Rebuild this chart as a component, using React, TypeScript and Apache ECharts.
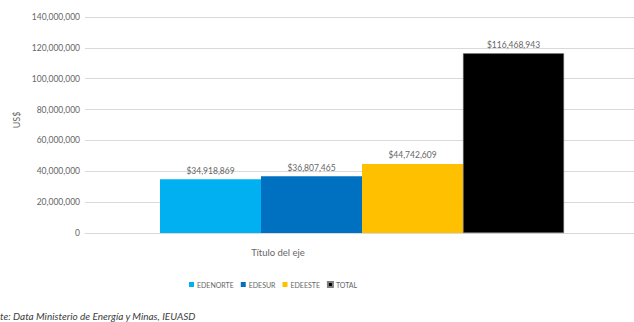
import React, { useEffect, useRef } from "react";
import * as echarts from "echarts";

const categories = ["Título del eje"];
const seriesNames = ["EDENORTE", "EDESUR", "EDEESTE", "TOTAL"];
const seriesValues = [34918869, 36807465, 44742609, 116468943];
const seriesColors = ["#00B0F0", "#0070C0", "#FFC000", "#000000"];
const yTicks = { min: 0, max: 140000000, interval: 20000000 };

const FONT = "Lato, 'Open Sans', sans-serif";
const TEXT = "#666666";

function fmt(n: number) {
  return n.toLocaleString("en-US");
}

export default function App() {
  const ref = useRef<HTMLDivElement>(null);
  useEffect(() => {
    if (!ref.current) return;
    const chart = echarts.init(ref.current, undefined, { renderer: "svg" });
    chart.setOption({
      animation: false,
      backgroundColor: "#ffffff",
      grid: { left: 85, right: 0, top: 17, bottom: 89, containLabel: false },
      xAxis: {
        type: "category",
        data: categories,
        axisLine: { show: true, lineStyle: { color: "#d9d9d9" } },
        axisTick: { show: false },
        axisLabel: { show: false },
      },
      yAxis: {
        type: "value",
        min: yTicks.min,
        max: yTicks.max,
        interval: yTicks.interval,
        axisLine: { show: false },
        axisTick: { show: false },
        splitLine: { lineStyle: { color: "#d9d9d9", width: 1 } },
        axisLabel: {
          color: TEXT,
          fontFamily: FONT,
          fontSize: 8.5,
          margin: 5,
          formatter: (v: number) => fmt(v),
        },
      },
      legend: {
        data: seriesNames,
        top: 276,
        left: 184,
        itemWidth: 5,
        itemHeight: 5,
        itemGap: 7,
        icon: "rect",
        textStyle: { color: TEXT, fontFamily: FONT, fontSize: 7, padding: [0, 0, 0, -2] },
      },
      series: seriesNames.map((name, i) => ({
        name,
        type: "bar",
        data: [seriesValues[i]],
        barWidth: 101,
        barGap: "0%",
        itemStyle: {
          color: seriesColors[i],
          borderColor: i === 3 ? "#7f7f7f" : seriesColors[i],
          borderWidth: i === 3 ? 0.5 : 0,
        },
        label: {
          show: true,
          position: "top",
          distance: 4,
          color: TEXT,
          fontFamily: FONT,
          fontSize: 8.5,
          formatter: (p: any) => "$" + fmt(p.value),
        },
      })),
      graphic: [
        {
          type: "text",
          x: 16,
          y: 120,
          rotation: Math.PI / 2,
          style: {
            text: "US$",
            fill: TEXT,
            font: `9px ${FONT}`,
            textAlign: "center",
            textVerticalAlign: "middle",
          },
        },
        {
          type: "text",
          x: 278,
          y: 252,
          style: {
            text: "Título del eje",
            fill: TEXT,
            font: `9.5px ${FONT}`,
            textAlign: "center",
            textVerticalAlign: "middle",
          },
        },
        {
          type: "text",
          x: 0,
          y: 316,
          style: {
            text: "te: Data Ministerio de Energía y Minas, IEUASD",
            fill: "#404040",
            font: `italic 10px ${FONT}`,
            textVerticalAlign: "middle",
          },
        },
      ],
    });
    return () => chart.dispose();
  }, []);
  return (
    <div
      ref={ref}
      style={{ position: "fixed", left: 0, top: 0, width: 639, height: 322 }}
    />
  );
}
